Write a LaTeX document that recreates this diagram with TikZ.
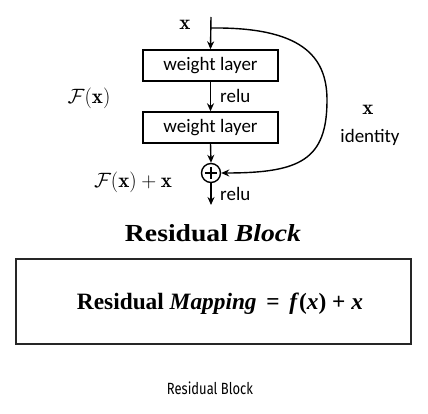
\documentclass[tikz,border=0pt]{standalone}
\usepackage{fontspec}
\usepackage{amsmath}
\usetikzlibrary{arrows.meta}
\newfontfamily\carl{Carlito}
\newfontfamily\capfont{Fira Sans}
\newfontfamily\titlefont{Liberation Serif}
\tikzset{
  layer/.style={draw, line width=1.4pt, minimum width=135pt, minimum height=31pt, inner sep=0pt, font=\carl\fontsize{19}{22}\selectfont},
  conn/.style={line width=1.4pt, -{Stealth[length=8pt,width=7pt]}},
  lbl/.style={font=\carl\fontsize{19}{22}\selectfont, inner sep=0pt},
  mlbl/.style={font=\fontsize{21}{25}\selectfont, inner sep=0pt},
  sumnode/.style={draw, circle, line width=1.4pt, minimum size=19pt, inner sep=0pt},
}
\begin{document}
\begin{tikzpicture}[x=1pt,y=-1pt]
\useasboundingbox (0,0) rectangle (428,414);
% top block
\coordinate (in) at (211,17);
\coordinate (split) at (211,28);
\node[layer] (w1) at (210.5,65.5) {weight layer};
\node[layer] (w2) at (210.5,127.5) {weight layer};
\node[sumnode] (sum) at (211,173) {};
\draw[line width=1.4pt] ([xshift=-6pt]sum.center) -- ([xshift=6pt]sum.center)
  ([yshift=-6pt]sum.center) -- ([yshift=6pt]sum.center);
\coordinate (out) at (211,205);
\draw[conn] (in) -- (w1.north);
\draw[conn] (w1.south) -- (w2.north);
\draw[conn] (w2.south) -- (sum.north);
\draw[conn] (sum.south) -- (out);
\draw[conn] (split) .. controls (300,27) and (327,55) .. (327,100)
  .. controls (327,160) and (300,173) .. (sum.east);
\node[mlbl] (xtop) at (185,25) {$\mathbf{x}$};
\node[lbl, anchor=west] (relu1) at (220,96) {relu};
\node[lbl, anchor=west] (relu2) at (220,194) {relu};
\node[mlbl] (fx) at (89,98) {$\mathcal{F}(\mathbf{x})$};
\node[mlbl] (fxx) at (133,182) {$\mathcal{F}(\mathbf{x})+\mathbf{x}$};
\node[mlbl] (xid) at (368,110) {$\mathbf{x}$};
\node[lbl] (ident) at (370,137) {identity};
% bottom
\node[inner sep=0pt, anchor=base] (title) at (213,241) {\resizebox{176pt}{17pt}{\titlefont\bfseries Residual \textit{Block}}};
\node[draw, line width=1.2pt, color=black!85, minimum width=395pt, minimum height=85pt, inner sep=0pt] (box) at (213.5,301.5) {};
\node[inner sep=0pt, anchor=base] (map) at (220,309) {\resizebox{286pt}{16.5pt}{\titlefont\bfseries Residual \textit{Mapping}\ \,=\ \,\textit{f}(\textit{x})\ +\ \textit{x}}};
\node[inner sep=0pt] (cap) at (210,388) {\resizebox{86pt}{!}{\capfont\fontsize{13}{15}\selectfont\addfontfeature{FakeStretch=0.8}Residual Block}};
\end{tikzpicture}
\end{document}
